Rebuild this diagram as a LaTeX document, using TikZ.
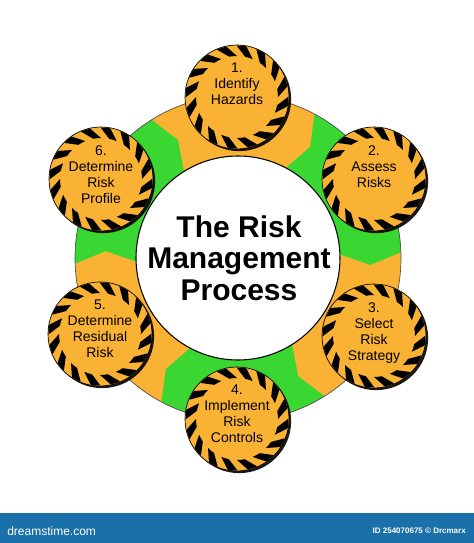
\documentclass[tikz,border=0pt]{standalone}
\usepackage{fontspec}
\setmainfont{Liberation Sans}
\usetikzlibrary{shadows}
\definecolor{hazardorange}{RGB}{249,178,51}
\definecolor{ringgreen}{RGB}{58,214,50}
\definecolor{barblue}{RGB}{26,112,168}
\tikzset{
  stepcircle/.style={circle, fill=hazardorange, draw=black, line width=0.5pt,
    minimum size=78pt, inner sep=0pt,
    drop shadow={shadow xshift=1.6pt, shadow yshift=-1.6pt, fill=black, opacity=0.9}},
  steptext/.style={anchor=north, align=center, inner sep=0pt,
    font=\fontsize{10.5}{12}\selectfont},
  titletext/.style={align=center, inner sep=0pt,
    font=\bfseries\fontsize{22.5}{23.5}\selectfont},
}
% black hazard stripes round a step circle
\newcommand{\hazardring}[1]{%
  \begin{scope}[shift={(#1.center)}]
    \foreach \s in {0,22.5,...,337.5}{
      \fill[black] (\s:41) -- ({\s+12}:51.5)
        arc[start angle={\s+12}, end angle={\s+23}, radius=51.5]
        -- ({\s+11}:41) arc[start angle={\s+11}, end angle=\s, radius=41] -- cycle;
    }
  \end{scope}}
\begin{document}
\begin{tikzpicture}[x=0.75pt, y=0.75pt]
  \useasboundingbox (0,0) rectangle (474,543);
  % ring
  \begin{scope}[shift={(238,285)}]
    \fill[hazardorange] (0,0) circle[radius=163];
    \foreach \k in {1,3,5}{
      \pgfmathsetmacro\aa{122-60*\k}
      \pgfmathsetmacro\ab{62-60*\k}
      \pgfmathsetmacro\ta{\aa-5}
      \pgfmathsetmacro\tb{\ab-5}
      \fill[ringgreen] (\aa:163) arc[start angle=\aa, end angle=\ab, radius=163]
        -- (\tb:132.5) -- (\ab:102) arc[start angle=\ab, end angle=\aa, radius=102]
        -- (\ta:132.5) -- cycle;
    }
    \draw[black!70, line width=0.5pt] (0,0) circle[radius=163];
    \filldraw[fill=white, draw=black, line width=0.8pt] (0,0) circle[radius=102];
  \end{scope}
  \node[titletext] (title) at (239,285) {The Risk\\Management\\Process};
  % steps
  \node[stepcircle] (s1) at (237,446) {};
  \node[stepcircle] (s2) at (374,364) {};
  \node[stepcircle] (s3) at (374,207) {};
  \node[stepcircle] (s4) at (237,124) {};
  \node[stepcircle] (s5) at (100,209) {};
  \node[stepcircle] (s6) at (101,364) {};
  \hazardring{s1}
  \hazardring{s2}
  \hazardring{s3}
  \hazardring{s4}
  \hazardring{s5}
  \hazardring{s6}
  \node[steptext] (t1) at ([yshift=25.5pt]s1.center) {1.\\Identify\\Hazards};
  \node[steptext] (t2) at ([yshift=25.5pt]s2.center) {2.\\Assess\\Risks};
  \node[steptext] (t3) at ([yshift=25.5pt]s3.center) {3.\\Select\\Risk\\Strategy};
  \node[steptext] (t4) at ([yshift=25.5pt]s4.center) {4.\\Implement\\Risk\\Controls};
  \node[steptext] (t5) at ([yshift=25.5pt]s5.center) {5.\\Determine\\Residual\\Risk};
  \node[steptext] (t6) at ([yshift=25.5pt]s6.center) {6.\\Determine\\Risk\\Profile};
  % bottom bar
  \fill[barblue] (0,0) rectangle (474,30);
  \node[anchor=west, text=white, inner sep=0pt, font=\fontsize{9}{10}\selectfont] (brand) at (7,12) {dreamstime.com};
  \node[anchor=east, text=white, inner sep=0pt, font=\bfseries\fontsize{6}{7}\selectfont] (imgid) at (466,12) {ID 254070675 © Drcmarx};
\end{tikzpicture}
\end{document}
